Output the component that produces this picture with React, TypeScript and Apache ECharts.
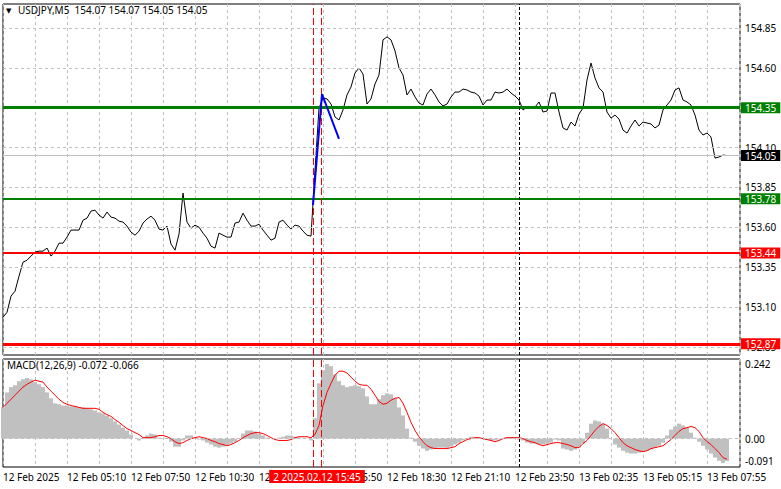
import React, { useEffect, useRef } from 'react';
import * as echarts from 'echarts';

// ---------- data ----------
const SYMBOL = 'USDJPY,M5';
const OHLC = ['154.07', '154.07', '154.05', '154.05'];
const MACD_TITLE = 'MACD(12,26,9) -0.072 -0.066';
const BAR_STEP = 2; // M5 bars between two samples

const prices = [
  153.037, 153.068, 153.169, 153.200, 153.294, 153.382, 153.394, 153.420, 153.445, 153.451,
  153.451, 153.470, 153.420, 153.451, 153.501, 153.501, 153.539, 153.583, 153.583, 153.583,
  153.645, 153.658, 153.702, 153.708, 153.677, 153.658, 153.696, 153.664, 153.658, 153.639,
  153.633, 153.608, 153.570, 153.551, 153.576, 153.627, 153.652, 153.670, 153.645, 153.589,
  153.583, 153.608, 153.495, 153.457, 153.558, 153.815, 153.633, 153.595, 153.614, 153.601,
  153.564, 153.532, 153.482, 153.470, 153.564, 153.551, 153.539, 153.539, 153.627, 153.633,
  153.689, 153.645, 153.608, 153.608, 153.620, 153.583, 153.551, 153.520, 153.532, 153.633,
  153.645, 153.614, 153.589, 153.614, 153.608, 153.576, 153.551, 153.545, 153.959, 154.348,
  154.411, 154.405, 154.373, 154.292, 154.273, 154.336, 154.430, 154.480, 154.568, 154.599,
  154.561, 154.373, 154.405, 154.499, 154.555, 154.775, 154.794, 154.775, 154.706, 154.599,
  154.555, 154.430, 154.467, 154.417, 154.379, 154.367, 154.436, 154.467, 154.430, 154.386,
  154.361, 154.373, 154.417, 154.448, 154.448, 154.467, 154.461, 154.448, 154.442, 154.423,
  154.367, 154.398, 154.398, 154.448, 154.442, 154.448, 154.467, 154.442, 154.423, 154.398,
  154.336, 154.354, 154.354, 154.354, 154.386, 154.323, 154.329, 154.442, 154.442, 154.323,
  154.223, 154.210, 154.260, 154.235, 154.310, 154.348, 154.524, 154.630, 154.536, 154.474,
  154.448, 154.323, 154.285, 154.304, 154.279, 154.210, 154.191, 154.235, 154.273, 154.235,
  154.260, 154.254, 154.248, 154.223, 154.241, 154.336, 154.367, 154.398, 154.461, 154.474,
  154.398, 154.386, 154.367, 154.304, 154.210, 154.179, 154.191, 154.166, 154.034, 154.041,
  154.053, 154.050,
];

const macdHist = [
  0.100, 0.148, 0.165, 0.171, 0.184, 0.190, 0.194, 0.190, 0.181, 0.174,
  0.165, 0.148, 0.129, 0.113, 0.110, 0.106, 0.106, 0.103, 0.103, 0.100,
  0.100, 0.097, 0.094, 0.090, 0.084, 0.081, 0.074, 0.065, 0.055, 0.045,
  0.035, 0.026, 0.013, 0.000, -0.006, 0.003, 0.010, 0.016, 0.013, 0.003,
  0.001, -0.001, -0.010, -0.026, -0.026, -0.006, 0.010, 0.010, 0.003, -0.003,
  -0.006, -0.013, -0.019, -0.026, -0.029, -0.026, -0.023, -0.016, -0.010, 0.000,
  0.016, 0.026, 0.026, 0.023, 0.016, 0.010, 0.003, 0.000, 0.000, 0.003,
  0.006, 0.010, 0.010, 0.006, 0.003, 0.000, -0.001, -0.006, 0.065, 0.177,
  0.219, 0.239, 0.232, 0.206, 0.184, 0.171, 0.165, 0.168, 0.171, 0.168,
  0.161, 0.135, 0.110, 0.110, 0.126, 0.139, 0.145, 0.142, 0.129, 0.100,
  0.074, 0.032, 0.003, -0.010, -0.023, -0.032, -0.039, -0.035, -0.032, -0.029,
  -0.029, -0.032, -0.026, -0.019, -0.013, -0.006, 0.000, 0.006, 0.003, 0.000,
  -0.001, -0.003, -0.006, -0.006, -0.003, 0.000, 0.003, 0.003, 0.000, -0.003,
  -0.006, -0.013, -0.016, -0.016, -0.019, -0.019, -0.016, -0.013, -0.003, -0.006,
  -0.032, -0.035, -0.039, -0.035, -0.029, -0.016, 0.019, 0.048, 0.058, 0.055,
  0.048, 0.032, 0.000, -0.019, -0.029, -0.039, -0.045, -0.048, -0.048, -0.045,
  -0.042, -0.039, -0.035, -0.029, -0.023, -0.013, 0.010, 0.029, 0.039, 0.048,
  0.042, 0.035, 0.019, 0.003, -0.010, -0.023, -0.035, -0.048, -0.061, -0.071,
  -0.078, -0.072,
];

const macdSignal = [
  0.100, 0.113, 0.126, 0.139, 0.152, 0.165, 0.174, 0.181, 0.187, 0.184,
  0.181, 0.165, 0.152, 0.139, 0.126, 0.116, 0.110, 0.106, 0.103, 0.100,
  0.097, 0.097, 0.097, 0.097, 0.094, 0.084, 0.077, 0.071, 0.061, 0.052,
  0.042, 0.032, 0.026, 0.019, 0.013, 0.003, 0.003, 0.003, 0.006, 0.010,
  0.010, 0.006, 0.000, -0.010, -0.016, -0.013, -0.006, 0.000, 0.003, 0.006,
  0.003, 0.000, -0.006, -0.010, -0.016, -0.019, -0.023, -0.019, -0.013, -0.006,
  0.003, 0.010, 0.016, 0.019, 0.019, 0.016, 0.010, 0.003, -0.003, -0.006,
  -0.006, -0.006, -0.003, 0.003, 0.006, 0.006, 0.006, 0.003, 0.013, 0.042,
  0.106, 0.148, 0.177, 0.203, 0.216, 0.216, 0.210, 0.197, 0.184, 0.174,
  0.171, 0.171, 0.158, 0.139, 0.119, 0.110, 0.113, 0.123, 0.129, 0.132,
  0.113, 0.084, 0.052, 0.026, 0.006, -0.010, -0.023, -0.029, -0.032, -0.032,
  -0.032, -0.032, -0.029, -0.026, -0.016, -0.010, -0.003, 0.000, 0.003, 0.003,
  0.000, -0.003, -0.006, -0.010, -0.006, 0.000, 0.003, 0.003, 0.003, 0.003,
  0.000, -0.006, -0.010, -0.013, -0.019, -0.023, -0.019, -0.016, -0.013, -0.013,
  -0.016, -0.019, -0.023, -0.029, -0.029, -0.016, -0.006, 0.010, 0.026, 0.039,
  0.048, 0.042, 0.032, 0.019, 0.003, -0.013, -0.023, -0.029, -0.035, -0.039,
  -0.042, -0.039, -0.032, -0.029, -0.026, -0.023, -0.013, -0.003, 0.010, 0.023,
  0.032, 0.035, 0.039, 0.035, 0.023, 0.003, -0.010, -0.019, -0.032, -0.045,
  -0.061, -0.066,
];

const xTickLabels = [
  '12 Feb 2025', '12 Feb 05:10', '12 Feb 07:50', '12 Feb 10:30', '12 Feb 13:10', '12 Feb 15:50',
  '12 Feb 18:30', '12 Feb 21:10', '12 Feb 23:50', '13 Feb 02:35', '13 Feb 05:15', '13 Feb 07:55',
];
const priceTicks = [152.85, 153.10, 153.35, 153.60, 153.85, 154.10, 154.35, 154.60, 154.85];
const levelValues = [154.35, 153.78, 153.44, 152.87];
const levelColors = ['#008000', '#008000', '#ff0000', '#ff0000'];
const levelWidths = [3, 2, 2, 3];
const bidPrice = 154.05;
const macdTickValues = [0.242, 0, -0.091];
const macdTickLabels = ['0.242', '0.00', '-0.091'];
const eventBars = [155, 159];
const daySeparatorBar = 258;
const eventLabelBar = 157;
const eventLabel = '2 2025.02.12 15:45';
const tradeBars = [155, 159.5, 168];
const tradePrices = [153.74, 154.436, 154.154];

// ---------- layout ----------
const FONT = "'Noto Sans', sans-serif";
const GRIDC = '#c0c0c0';
const X_MAX = 368.5;

const priceData = prices.map((p, i) => [i * BAR_STEP, p]);
const histData = macdHist.map((v, i) => [i * BAR_STEP, v]);
const sigData = macdSignal.map((v, i) => [i * BAR_STEP, v]);
const tradeData = tradeBars.map((b, i) => [b, tradePrices[i]]);

const baseLabel = { show: true, position: 'end', color: '#000', fontSize: 10, fontFamily: FONT, distance: 5 };
const boxLabel = (bg: string) => ({
  show: true, position: 'end', color: '#fff', fontSize: 10, fontFamily: FONT,
  distance: 1, backgroundColor: bg, padding: [1, 4, 0, 4],
});

const xAxisBase = (grid: number, showLabels: boolean) => ({
  type: 'value', gridIndex: grid, min: 0, max: X_MAX, interval: 16,
  axisLine: { show: false }, axisTick: { show: false },
  splitLine: { show: true, lineStyle: { color: GRIDC, type: [3, 3], width: 1 } },
  axisLabel: {
    show: showLabels, align: 'left', margin: 5, color: '#000', fontSize: 10, fontFamily: FONT,
    formatter: (v: number) => (v % 32 === 0 && v / 32 < xTickLabels.length ? xTickLabels[v / 32] : ''),
  },
});

const vLines = (withLabel: boolean) => [
  ...eventBars.map((b) => ({ xAxis: b, lineStyle: { color: '#ff0000', type: [7, 3], width: 1 }, label: { show: false } })),
  { xAxis: daySeparatorBar, lineStyle: { color: '#000', type: [3, 2], width: 1 }, label: { show: false } },
  ...(withLabel
    ? [{
        xAxis: eventLabelBar,
        lineStyle: { color: 'rgba(0,0,0,0)', width: 0 },
        label: {
          show: true, position: 'start', formatter: eventLabel, color: '#fff', fontSize: 10, fontFamily: FONT,
          backgroundColor: '#ff0000', padding: [2, 4, 1, 4], distance: 3,
        },
      }]
    : []),
];

const option: any = {
  animation: false,
  backgroundColor: '#fff',
  grid: [
    { left: 3, top: 4, width: 737, height: 351, show: true, borderColor: '#000', borderWidth: 1, backgroundColor: '#fff' },
    { left: 3, top: 359, width: 737, height: 108, show: true, borderColor: '#000', borderWidth: 1, backgroundColor: '#fff' },
  ],
  xAxis: [xAxisBase(0, false), xAxisBase(1, true)],
  yAxis: [
    { type: 'value', gridIndex: 0, position: 'right', min: 152.8, max: 155.0, axisLabel: { show: false }, splitLine: { show: false }, axisTick: { show: false }, axisLine: { show: false } },
    { type: 'value', gridIndex: 1, position: 'right', min: -0.091, max: 0.255, axisLabel: { show: false }, splitLine: { show: false }, axisTick: { show: false }, axisLine: { show: false } },
  ],
  graphic: [
    { type: 'text', left: 6, top: 7, z: 100, style: { text: '▼', font: `7px 'DejaVu Sans'`, fill: '#000' } },
    { type: 'text', left: 18, top: 5, z: 100, style: { text: `${SYMBOL}  ${OHLC.join(' ')}`, font: `10px ${FONT}`, fill: '#000' } },
    { type: 'text', left: 7, top: 360, z: 100, style: { text: MACD_TITLE, font: `10px ${FONT}`, fill: '#000' } },
  ],
  series: [
    {
      type: 'line', xAxisIndex: 0, yAxisIndex: 0, data: [], z: 1, silent: true,
      markLine: {
        silent: true, symbol: ['none', 'none'], animation: false,
        lineStyle: { color: GRIDC, type: [3, 3], width: 1 },
        label: baseLabel,
        data: priceTicks.map((v) => ({ yAxis: v, label: { ...baseLabel, formatter: v.toFixed(2) } })),
      },
    },
    {
      type: 'line', xAxisIndex: 0, yAxisIndex: 0, data: [], z: 2, silent: true,
      markLine: {
        silent: true, symbol: ['none', 'none'], animation: false,
        data: [{ yAxis: bidPrice, lineStyle: { color: GRIDC, type: 'solid', width: 1 }, label: { ...boxLabel('#000'), formatter: bidPrice.toFixed(2) } }],
      },
    },
    {
      type: 'line', xAxisIndex: 0, yAxisIndex: 0, data: priceData, z: 3, showSymbol: false, silent: true,
      lineStyle: { color: '#000', width: 1 },
    },
    {
      type: 'line', xAxisIndex: 0, yAxisIndex: 0, data: [], z: 4, silent: true,
      markLine: {
        silent: true, symbol: ['none', 'none'], animation: false,
        data: levelValues.map((v, i) => ({
          yAxis: v,
          lineStyle: { color: levelColors[i], type: 'solid', width: levelWidths[i] },
          label: { ...boxLabel(levelColors[i]), formatter: v.toFixed(2) },
        })),
      },
    },
    {
      type: 'line', xAxisIndex: 0, yAxisIndex: 0, data: [], z: 5, silent: true,
      markLine: { silent: true, symbol: ['none', 'none'], animation: false, data: vLines(false) },
    },
    {
      type: 'line', xAxisIndex: 0, yAxisIndex: 0, data: tradeData, z: 6, showSymbol: false, silent: true,
      lineStyle: { color: '#0000ff', width: 2 },
    },
    // MACD panel
    {
      type: 'line', xAxisIndex: 1, yAxisIndex: 1, data: [], z: 1, silent: true,
      markLine: {
        silent: true, symbol: ['none', 'none'], animation: false,
        data: macdTickValues.map((v, i) => ({
          yAxis: v,
          lineStyle: v === 0 ? { color: GRIDC, type: [3, 3], width: 1 } : { color: 'rgba(0,0,0,0)', width: 0 },
          label: { ...baseLabel, formatter: macdTickLabels[i], offset: v < 0 ? [0, -6] : [0, 0] },
        })),
      },
    },
    {
      type: 'bar', xAxisIndex: 1, yAxisIndex: 1, data: histData, z: 2, barWidth: 4, silent: true,
      itemStyle: { color: '#c0c0c0' },
    },
    {
      type: 'line', xAxisIndex: 1, yAxisIndex: 1, data: sigData, z: 3, showSymbol: false, silent: true,
      lineStyle: { color: '#ff0000', width: 1 },
    },
    {
      type: 'line', xAxisIndex: 1, yAxisIndex: 1, data: [], z: 5, silent: true,
      markLine: { silent: true, symbol: ['none', 'none'], animation: false, data: vLines(true) },
    },
  ],
};

export default function App() {
  const ref = useRef<HTMLDivElement>(null);
  useEffect(() => {
    document.body.style.margin = '0';
    const chart = echarts.init(ref.current as HTMLDivElement, null, { renderer: 'svg' });
    chart.setOption(option);
    return () => chart.dispose();
  }, []);
  return <div ref={ref} style={{ width: 781, height: 489 }} />;
}
